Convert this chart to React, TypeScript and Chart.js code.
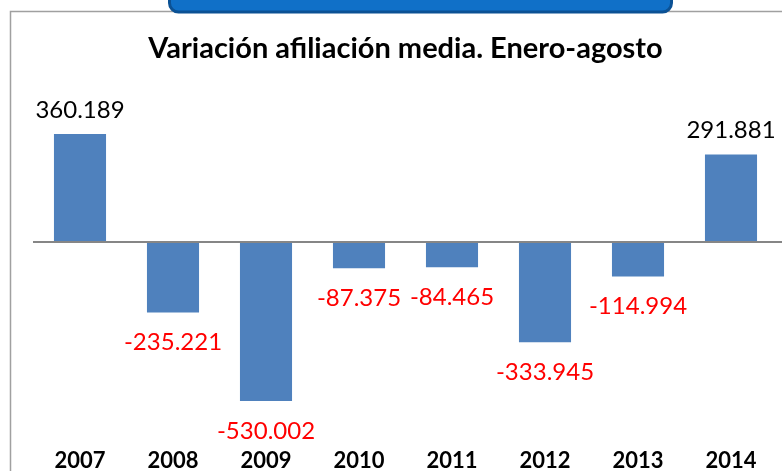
import React, { useEffect, useRef } from "react";
import { Chart, registerables } from "chart.js";

Chart.register(...registerables);

const TITLE = "Variación afiliación media. Enero-agosto";
const YEARS = ["2007", "2008", "2009", "2010", "2011", "2012", "2013", "2014"];
const VARIATION = [360189, -235221, -530002, -87375, -84465, -333945, -114994, 291881];
const Y_MIN = -627000;
const Y_MAX = 470000;

const BAR_COLOR = "#4F81BD";
const FONT = "Lato, 'Open Sans', sans-serif";

function fmt(v: number): string {
  const s = Math.abs(v).toString().replace(/\B(?=(\d{3})+(?!\d))/g, ".");
  return (v < 0 ? "-" : "") + s;
}

const decorPlugin = {
  id: "decor",
  beforeDraw(chart: any) {
    const ctx = chart.ctx;
    ctx.save();
    ctx.fillStyle = "#ffffff";
    ctx.fillRect(0, 0, chart.width, chart.height);
    ctx.strokeStyle = "#a0a0a0";
    ctx.lineWidth = 1.5;
    ctx.beginPath();
    ctx.moveTo(10.5, chart.height + 2);
    ctx.lineTo(10.5, 11.5);
    ctx.lineTo(chart.width + 2, 11.5);
    ctx.stroke();
    ctx.restore();
  },
  afterDatasetsDraw(chart: any) {
    const ctx = chart.ctx;
    const y0 = chart.scales.y.getPixelForValue(0);
    ctx.save();
    ctx.strokeStyle = "#868686";
    ctx.lineWidth = 2;
    ctx.beginPath();
    ctx.moveTo(33, y0);
    ctx.lineTo(chart.width, y0);
    ctx.stroke();

    const meta = chart.getDatasetMeta(0);
    ctx.font = `24px ${FONT}`;
    ctx.textAlign = "center";
    ctx.textBaseline = "middle";
    meta.data.forEach((bar: any, i: number) => {
      const v = VARIATION[i];
      if (v >= 0) {
        ctx.fillStyle = "#000000";
        ctx.fillText(fmt(v), bar.x, bar.y - 24);
      } else {
        ctx.fillStyle = "#FF0000";
        ctx.fillText(fmt(v), bar.x, bar.y + 30);
      }
    });
    ctx.restore();
  },
  afterDraw(chart: any) {
    const ctx = chart.ctx;
    ctx.save();
    ctx.beginPath();
    ctx.roundRect(169.5, -20, 502, 32, 9);
    ctx.fillStyle = "#1070C8";
    ctx.fill();
    ctx.lineWidth = 3;
    ctx.strokeStyle = "#0B5194";
    ctx.stroke();
    ctx.restore();
  },
};

export default function App() {
  const ref = useRef<HTMLCanvasElement | null>(null);
  useEffect(() => {
    if (!ref.current) return;
    const chart = new Chart(ref.current, {
      type: "bar",
      data: {
        labels: YEARS,
        datasets: [
          {
            data: VARIATION,
            backgroundColor: BAR_COLOR,
            borderWidth: 0,
            barPercentage: 0.56,
            categoryPercentage: 1,
          },
        ],
      },
      options: {
        animation: false,
        responsive: false,
        devicePixelRatio: 1,
        layout: { padding: { left: 33.5, right: 4.5, top: 0, bottom: -21.5 } },
        plugins: {
          legend: { display: false },
          tooltip: { enabled: false },
          title: {
            display: true,
            text: TITLE,
            color: "#000000",
            font: { family: FONT, size: 29, weight: "bold", lineHeight: 1.2 },
            padding: { top: 31.6, bottom: 34.6 },
          },
        },
        scales: {
          x: {
            grid: { display: false, drawTicks: false },
            border: { display: false },
            ticks: {
              color: "#000000",
              padding: 18,
              font: { family: FONT, size: 22, weight: "bold" },
            },
          },
          y: {
            display: false,
            min: Y_MIN,
            max: Y_MAX,
          },
        },
      },
      plugins: [decorPlugin],
    });
    return () => chart.destroy();
  }, []);
  return (
    <div style={{ position: "absolute", left: 0, top: 0, width: 782, height: 471 }}>
      <canvas ref={ref} width={782} height={471} style={{ display: "block" }} />
    </div>
  );
}
